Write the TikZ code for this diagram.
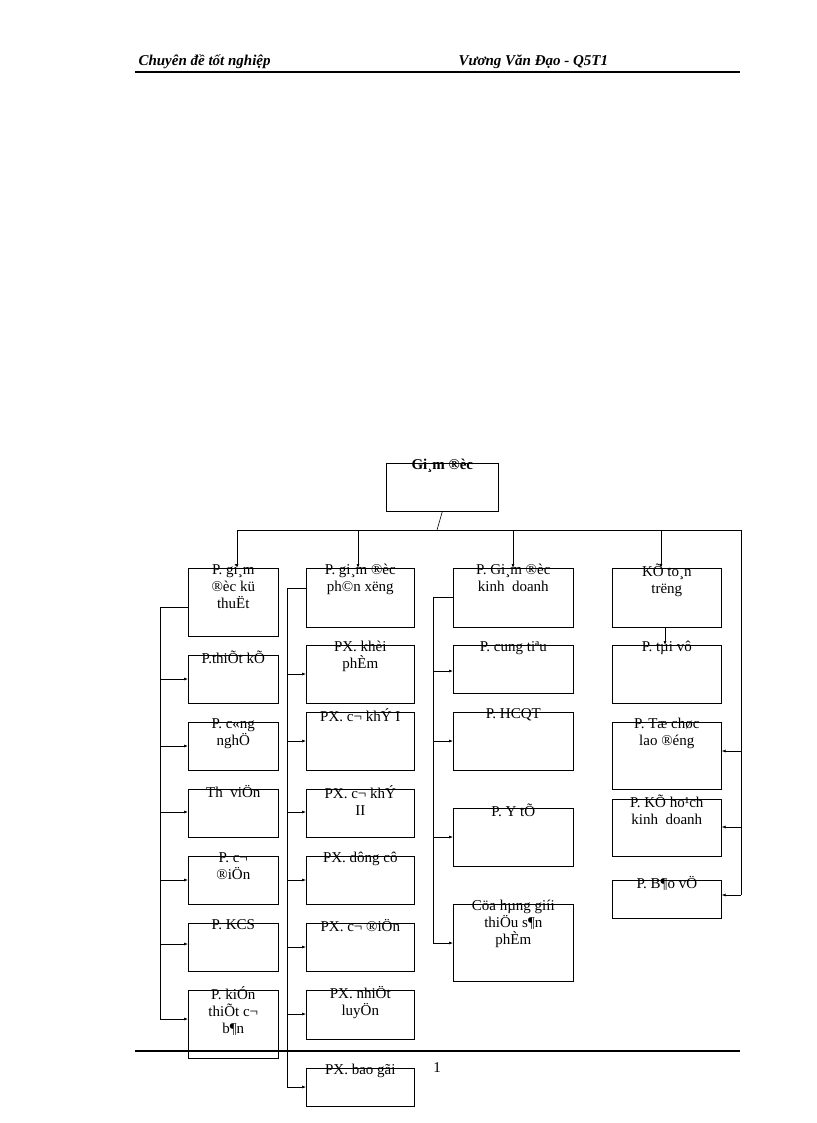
\documentclass[tikz,border=0pt]{standalone}
\usepackage{fontspec}
\setmainfont{Liberation Serif}
\usetikzlibrary{arrows.meta}
\tikzset{bx/.style={draw,line width=0.6pt},
 lbl/.style={anchor=north,align=center,inner sep=0pt,font=\fontsize{15}{17}\selectfont},
 ln/.style={line width=0.6pt},
 ar/.style={ln,-{Latex[length=4pt,width=3pt]}}}
\newcommand{\bx}[6]{\node[bx,minimum width=#4pt-#2pt,minimum height=#5pt-#3pt,anchor=north west,inner sep=0pt] (#1) at (#2,#3) {};
 \node[lbl] (#1t) at ($(#1.north)+(0,4pt)$) {#6};}
\usetikzlibrary{calc}
\begin{document}
\begin{tikzpicture}[x=1pt,y=-1pt]
\useasboundingbox (0,0) rectangle (816,1123);
\node[anchor=base west,font=\bfseries\itshape\fontsize{15}{17}\selectfont] (h1) at (135,66) {Chuyên đề tốt nghiệp};
\node[anchor=base west,font=\bfseries\itshape\fontsize{15}{17}\selectfont] (h2) at (455,66) {Vương Văn Đạo - Q5T1};
\draw[line width=1.2pt] (135,72) coordinate (hl) -- (740,72) coordinate (hr);
\draw[line width=1.2pt] (135,1051) coordinate (fl) -- (740,1051) coordinate (fr);
\node[font=\fontsize{15}{17}\selectfont] (pg) at (437,1068) {1};
\node[bx,minimum width=112pt,minimum height=48pt,anchor=north west,inner sep=0pt] (top) at (386,463) {};
\node[lbl,font=\bfseries\fontsize{15}{17}\selectfont] (topt) at ($(top.north)+(0,4pt)$) {Gi¸m ®èc};
% col1
\bx{a1}{188}{568}{278}{636}{P. gi¸m\\®èc kü\\thuËt}
\bx{a2}{188}{655}{278}{703}{P.thiÕt kÕ}
\bx{a3}{188}{722}{278}{770}{P. c«ng\\nghÖ}
\bx{a4}{188}{789}{278}{837}{Th\ \ viÖn}
\bx{a5}{188}{856}{278}{904}{P. c¬\\®iÖn}
\bx{a6}{188}{923}{278}{971}{P. KCS}
\bx{a7}{188}{990}{278}{1058}{P. kiÓn\\thiÕt c¬\\b¶n}
% col2
\bx{b1}{306}{568}{414}{627}{P. gi¸m ®èc\\ph©n xëng}
\bx{b2}{306}{645}{414}{703}{PX. khèi\\phÈm}
\bx{b3}{306}{712}{414}{770}{PX. c¬ khÝ I}
\bx{b4}{306}{789}{414}{837}{PX. c¬ khÝ\\II}
\bx{b5}{306}{856}{414}{904}{PX. dông cô}
\bx{b6}{306}{923}{414}{971}{PX. c¬ ®iÖn}
\bx{b7}{306}{990}{414}{1039}{PX. nhiÖt\\luyÖn}
\bx{b8}{306}{1068}{414}{1106}{PX. bao gãi}
% col3
\bx{c1}{453}{568}{573}{627}{P. Gi¸m ®èc\\kinh\ \ doanh}
\bx{c2}{453}{645}{573}{693}{P. cung tiªu}
\bx{c3}{453}{712}{573}{770}{P. HCQT}
\bx{c4}{453}{808}{573}{866}{P. Y tÕ}
\bx{c5}{453}{904}{573}{981}{Cöa hµng giíi\\thiÖu s¶n\\phÈm}
% col4
\bx{d1}{612}{568}{721}{627}{KÕ to¸n\\trëng}
\bx{d2}{612}{645}{721}{703}{P. tµi vô}
\bx{d3}{612}{722}{721}{789}{P. Tæ chøc\\lao ®éng}
\bx{d4}{612}{799}{721}{856}{P. KÕ ho¹ch\\kinh\ \ doanh}
\bx{d5}{612}{880}{721}{918}{P. B¶o vÖ}
% top bus
\coordinate (bus) at (437,530);
\draw[ln] (top.south) -- (bus);
\draw[ln] (237,530) -- (741,530) -- (741,895);
\foreach \n/\x in {a1/237,b1/358,c1/513,d1/661}{\draw[ar] (\x,530) -- (\x,568);}
\draw[ar] (d1.south -| 665,0) -- (d2.north -| 665,0);
% spines
\draw[ln] (a1.west |- 0,607) -- (160,607) -- (160,1019);
\foreach \n/\y in {a2/679,a3/746,a4/812,a5/880,a6/944,a7/1019}{\draw[ar] (160,\y) -- (\n.west |- 0,\y);}
\draw[ln] (b1.west |- 0,588) -- (287,588) -- (287,1087);
\foreach \n/\y in {b2/674,b3/741,b4/812,b5/880,b6/947,b7/1014,b8/1087}{\draw[ar] (287,\y) -- (\n.west |- 0,\y);}
\draw[ln] (c1.west |- 0,597) -- (433,597) -- (433,943);
\foreach \n/\y in {c2/671,c3/741,c4/837,c5/943}{\draw[ar] (433,\y) -- (\n.west |- 0,\y);}
\foreach \n/\y in {d3/751,d4/827,d5/895}{\draw[ar] (741,\y) -- (\n.east |- 0,\y);}
\end{tikzpicture}
\end{document}
